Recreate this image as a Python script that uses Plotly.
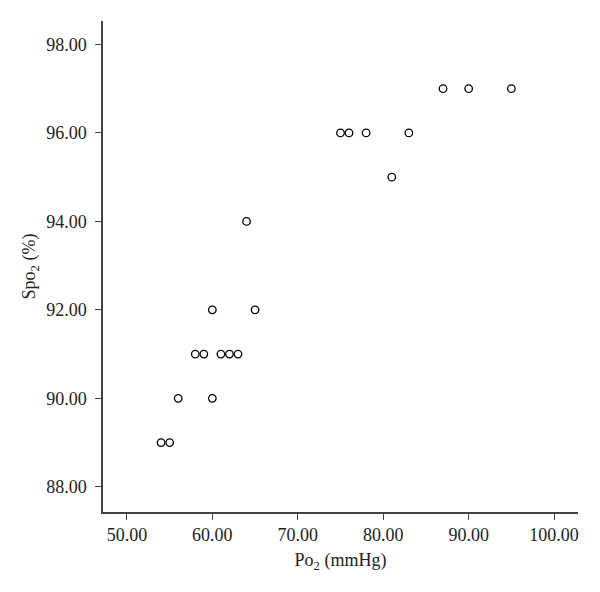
import plotly.graph_objects as go

po2 = [54, 55, 56, 58, 59, 60, 60, 61, 62, 63, 64, 65, 75, 76, 78, 81, 83, 87, 90, 95]
spo2 = [89, 89, 90, 91, 91, 92, 90, 91, 91, 91, 94, 92, 96, 96, 96, 95, 96, 97, 97, 97]

x_ticks = [50, 60, 70, 80, 90, 100]
y_ticks = [88, 90, 92, 94, 96, 98]

font_family = "'Liberation Serif', 'Times New Roman', Times, serif"

fig = go.Figure(go.Scatter(
    x=po2, y=spo2, mode="markers",
    marker=dict(symbol="circle-open", size=7.5, color="black", line=dict(width=1.3, color="black")),
    showlegend=False,
))

axis_common = dict(
    showgrid=False, zeroline=False, showline=True, linecolor="#444", linewidth=1.5,
    ticks="outside", ticklen=6, tickwidth=1.2, tickcolor="#444",
    tickfont=dict(family=font_family, size=18, color="#222"),
    tickformat=".2f", automargin=False,
)

fig.update_layout(
    width=592, height=584,
    margin=dict(l=95, r=22, t=13, b=80),
    paper_bgcolor="white", plot_bgcolor="white",
    font=dict(family=font_family, size=18, color="#222"),
    xaxis=dict(range=[47.2, 102.8], tickvals=x_ticks,
               title=dict(text="Po<sub>2</sub> (mmHg)", font=dict(family=font_family, size=18, color="#222"), standoff=9),
               **axis_common),
    yaxis=dict(range=[87.43, 98.53], tickvals=y_ticks, ticklabelstandoff=5,
               title=dict(text="Spo<sub>2</sub> (%)", font=dict(family=font_family, size=18, color="#222"), standoff=6),
               **axis_common),
)

fig.write_html("out.html")
